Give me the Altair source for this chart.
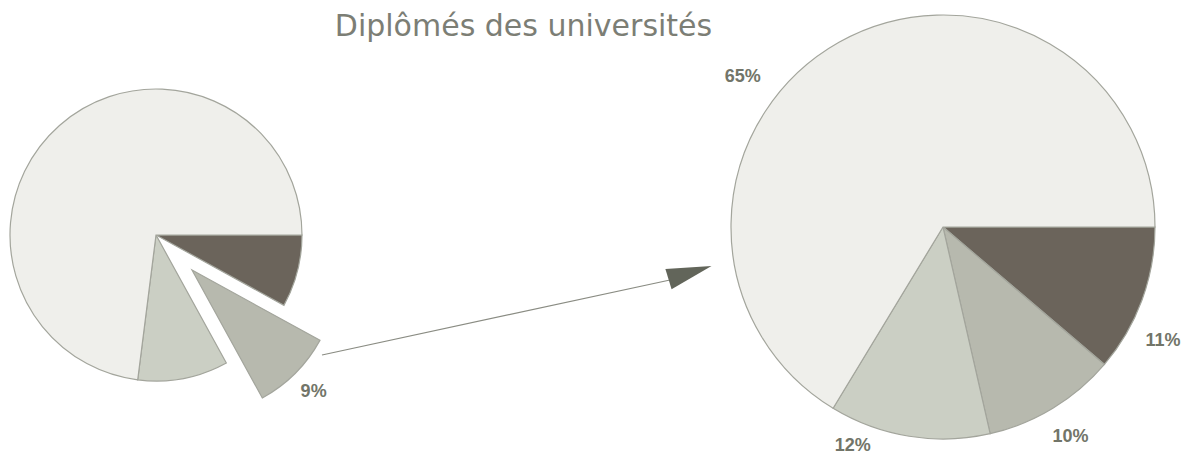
import math
import altair as alt
import pandas as pd

# ---------------- data ----------------
categories = ["Groupe A", "Groupe B", "Groupe C", "Autres"]
left_values = [8, 9, 10, 73]          # small pie (all graduates)
right_values = [11, 10, 12, 65]       # enlarged pie (universities)
exploded_category = "Groupe B"
title_text = "Diplômés des universités"

# ---------------- layout / style ----------------
colors = ["#6b645b", "#b7b9ae", "#cbcfc4", "#efefeb"]
right_label_frac = [0.68, 0.5, 0.80, 0.40]  # position of each label along its slice
right_label_gap = [36, 34, 25, 38]          # distance of each label beyond the rim

LEFT_C = (148, 227)
EXPL_C = (184, 262)
R_L = 146
RIGHT_C = (935, 219)
R_R = 212
OUTLINE = "#a3a59c"
LABEL_COLOR = "#727569"

theta_rng = [math.pi / 2, math.pi / 2 + 2 * math.pi]
color_scale = alt.Scale(domain=categories, range=colors)

left_df = pd.DataFrame({"cat": categories, "value": left_values, "idx": list(range(len(categories)))})
right_df = pd.DataFrame({"cat": categories, "value": right_values,
                         "idx": list(range(len(categories))), "frac": right_label_frac,
                         "rad": [R_R + g for g in right_label_gap]})
left_total = float(sum(left_values))
right_total = float(sum(right_values))


def pie(df, center, radius, opacity):
    return alt.Chart(df).mark_arc(radius=radius, stroke=OUTLINE, strokeWidth=1.2).encode(
        theta=alt.Theta("value:Q", stack=True, scale=alt.Scale(range=theta_rng)),
        order=alt.Order("idx:Q"),
        color=alt.Color("cat:N", scale=color_scale, legend=None),
        opacity=opacity,
        x=alt.value(center[0]),
        y=alt.value(center[1]),
    )


left_pie = pie(left_df, LEFT_C, R_L,
               alt.condition(alt.datum.cat == exploded_category, alt.value(0), alt.value(1)))
exploded = pie(left_df, EXPL_C, R_L,
               alt.condition(alt.datum.cat == exploded_category, alt.value(1), alt.value(0)))
right_pie = pie(right_df, RIGHT_C, R_R, alt.value(1))

label_style = dict(font="Liberation Sans", fontSize=18, fontWeight="bold", color=LABEL_COLOR,
                   align="center", baseline="middle")

left_label = alt.Chart(left_df).transform_window(
    cum="sum(value)", sort=[alt.SortField("idx")], frame=[None, 0]
).transform_calculate(
    pos="datum.cum - datum.value / 2", label="datum.value + '%'"
).transform_filter(
    alt.datum.cat == exploded_category
).mark_text(radius=R_L + 26, **label_style).encode(
    theta=alt.Theta("pos:Q", stack=False, scale=alt.Scale(domain=[0, left_total], range=theta_rng)),
    text="label:N",
    x=alt.value(EXPL_C[0]),
    y=alt.value(EXPL_C[1]),
)

right_labels = alt.Chart(right_df).transform_window(
    cum="sum(value)", sort=[alt.SortField("idx")], frame=[None, 0]
).transform_calculate(
    pos="datum.cum - datum.value + datum.frac * datum.value", label="datum.value + '%'"
).mark_text(**label_style).encode(
    theta=alt.Theta("pos:Q", stack=False, scale=alt.Scale(domain=[0, right_total], range=theta_rng)),
    radius=alt.Radius("rad:Q", scale=None),
    text="label:N",
    x=alt.value(RIGHT_C[0]),
    y=alt.value(RIGHT_C[1]),
)

one = alt.Data(values=[{}])
title = alt.Chart(one).mark_text(
    text=title_text, font="DejaVu Sans", fontSize=30, color="#7c7e75",
    align="center", baseline="alphabetic"
).encode(x=alt.value(515.5), y=alt.value(28))

arrow_line = alt.Chart(one).mark_rule(color="#8a8c83", strokeWidth=1.2).encode(
    x=alt.value(314), y=alt.value(347), x2=alt.value(662), y2=alt.value(272)
)
arrow_head = alt.Chart(one).mark_point(
    shape="M 1 0 L -1 -0.47 L -1 0.47 Z", size=2025, angle=343, filled=True,
    color="#62655a", opacity=1, strokeWidth=0
).encode(x=alt.value(682), y=alt.value(264.5))

chart = alt.layer(
    left_pie, exploded, right_pie, left_label, right_labels, title, arrow_line, arrow_head
).resolve_scale(theta="independent").properties(
    width=1175, height=451, padding=0,
    autosize=alt.AutoSizeParams(type="none"),
    background="white",
).configure_view(stroke=None)

chart.save("out.html", embed_options={"renderer": "svg", "actions": False})
